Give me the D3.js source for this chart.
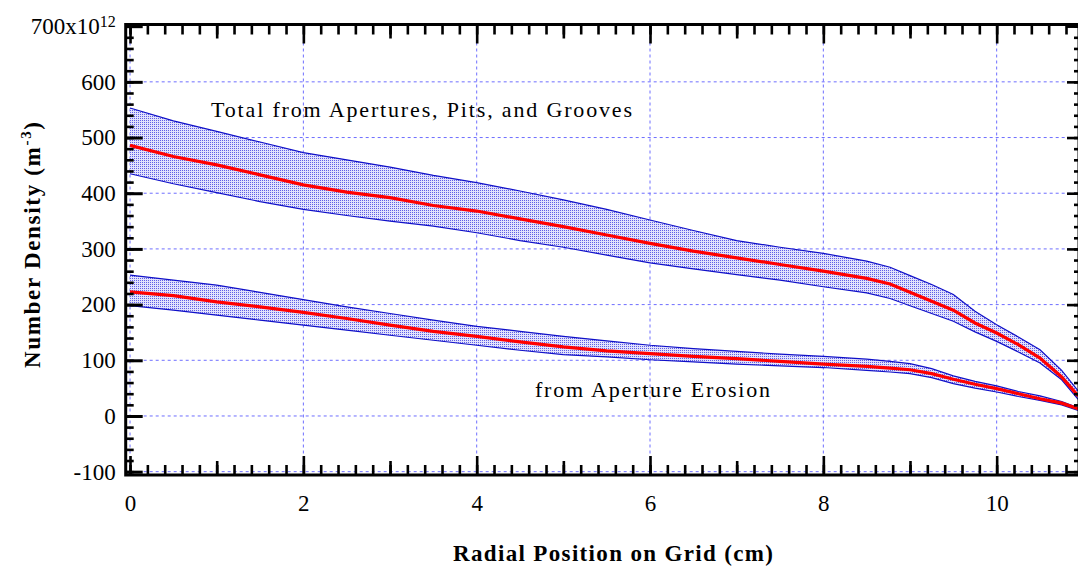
<!DOCTYPE html>
<html>
<head>
<meta charset="utf-8">
<script src="https://cdn.jsdelivr.net/npm/d3@7"></script>
<style>
    body { margin: 0; background: #fff; }
    svg { display: block; font-family: "Liberation Serif", "Times New Roman", serif; }
</style>
</head>
<body>
<svg width="1078" height="574"></svg>
<script>
// radial positions (cm) at which the curves were read
var radius = [0, 0.5, 1, 1.5, 2, 2.5, 3, 3.5, 4, 4.5, 5, 5.5, 6, 6.5, 7, 7.5, 8, 8.5, 8.77, 9, 9.25, 9.5, 9.75, 10, 10.25, 10.5, 10.75, 10.94];

// total from apertures, pits and grooves (x10^12 m^-3)
var totalHigh = [553, 530, 511, 492, 473, 460, 447, 432, 419, 404, 388, 371, 352, 333, 315, 303, 292, 278, 267, 252, 236, 218, 188, 164, 142, 119, 82, 45];
var totalMid  = [486, 466, 451, 433, 415, 402, 392, 378, 368, 354, 340, 325, 310, 296, 284, 272, 260, 247, 237, 222, 206, 190, 167, 149, 128, 104, 70, 36];
var totalLow  = [435, 417, 401, 385, 371, 360, 350, 341, 329, 315, 303, 289, 275, 264, 254, 244, 232, 221, 211, 198, 184, 170, 151, 134, 115, 95, 65, 30];

// from aperture erosion only
var erosionHigh = [253, 244, 235, 222, 209, 196, 184, 172, 161, 152, 143, 135, 127, 121, 116, 111, 107, 102, 98, 94, 85, 72, 62, 54, 44, 36, 26, 15];
var erosionMid  = [223, 216, 205, 196, 186, 175, 163, 152, 143, 133, 124, 117, 112, 107, 103, 98, 93, 89, 86, 83, 76, 66, 57, 49, 40, 31, 23, 13];
var erosionLow  = [198, 190, 181, 172, 163, 154, 145, 136, 127, 118, 110, 106, 101, 97, 93, 90, 87, 82, 79, 76, 69, 58, 50, 43, 35, 28, 20, 10];

var xTicks = [0, 2, 4, 6, 8, 10];
var yTicks = [-100, 0, 100, 200, 300, 400, 500, 600, 700];

var bandLabels = ["Total from Apertures, Pits, and Grooves", "from Aperture Erosion"];

var svg = d3.select("svg"),
    plotL = 125.7, plotR = 1079, plotT = 24.5, plotB = 475;

var x = d3.scaleLinear().domain([-0.05, 10.95]).range([plotL, plotR]);
var y = d3.scaleLinear().domain([-106, 703]).range([plotB, plotT]);

// stipple fill of the bands
var defs = svg.append("defs");
var pat = defs.append("pattern")
    .attr("id", "stipple")
    .attr("patternUnits", "userSpaceOnUse")
    .attr("width", 2)
    .attr("height", 2);
pat.append("rect").attr("width", 2).attr("height", 2).attr("fill", "#e2e2fc");
pat.append("rect").attr("width", 1).attr("height", 1).attr("fill", "#6060e6");

defs.append("clipPath").attr("id", "plotClip")
    .append("rect")
    .attr("x", plotL).attr("y", plotT)
    .attr("width", plotR - plotL).attr("height", plotB - plotT);

// grid
var grid = svg.append("g").attr("class", "grid")
    .attr("stroke", "#6e6eff")
    .attr("stroke-width", 1)
    .attr("stroke-dasharray", "3,3");

grid.selectAll(".vgrid")
    .data(xTicks)
    .enter().append("line")
    .attr("x1", function(d) { return x(d); })
    .attr("x2", function(d) { return x(d); })
    .attr("y1", plotT)
    .attr("y2", plotB);

grid.selectAll(".hgrid")
    .data(yTicks.filter(function(d) { return d < 700; }))
    .enter().append("line")
    .attr("x1", plotL)
    .attr("x2", plotR)
    .attr("y1", function(d) { return y(d); })
    .attr("y2", function(d) { return y(d); });

// bands
var bands = [
    {high: totalHigh, mid: totalMid, low: totalLow},
    {high: erosionHigh, mid: erosionMid, low: erosionLow}
];

var area = d3.area()
    .x(function(d) { return x(d.r); })
    .y0(function(d) { return y(d.lo); })
    .y1(function(d) { return y(d.hi); });

var line = d3.line()
    .x(function(d) { return x(d[0]); })
    .y(function(d) { return y(d[1]); });

var plot = svg.append("g").attr("clip-path", "url(#plotClip)");

bands.forEach(function(b) {
    var pts = radius.map(function(r, i) { return {r: r, hi: b.high[i], lo: b.low[i]}; });

    plot.append("path")
        .datum(pts)
        .attr("d", area)
        .attr("fill", "url(#stipple)");

    [b.high, b.low].forEach(function(edge) {
        plot.append("path")
            .datum(radius.map(function(r, i) { return [r, edge[i]]; }))
            .attr("d", line)
            .attr("fill", "none")
            .attr("stroke", "#1010c8")
            .attr("stroke-width", 1.2);
    });
});

bands.forEach(function(b) {
    plot.append("path")
        .datum(radius.map(function(r, i) { return [r, b.mid[i]]; }))
        .attr("d", line)
        .attr("fill", "none")
        .attr("stroke", "#ff0000")
        .attr("stroke-width", 3.2);
});

// ticks, all pointing inward
var xMinor = d3.range(0, 55).map(function(i) { return i * 0.2; }),
    xMedium = [1, 3, 5, 7, 9],
    yMinor = d3.range(-100, 701, 20);

function ticks(axisFn, scale, values, len, tx, ty, labelled) {
    var ax = axisFn(scale).tickValues(values).tickSize(-len);
    if (!labelled) ax.tickFormat("");
    var g = svg.append("g")
        .attr("transform", "translate(" + tx + "," + ty + ")")
        .call(ax);
    g.select(".domain").remove();
    g.selectAll("line").attr("stroke", "#000").attr("stroke-width", 2.6);
    return g;
}

ticks(d3.axisBottom, x, xMinor, 10, 0, plotB);
ticks(d3.axisBottom, x, xMedium, 14, 0, plotB);
var xAxis = ticks(d3.axisBottom, x, xTicks, 19, 0, plotB, true);
xAxis.selectAll(".tick text")
    .attr("font-family", "Liberation Serif")
    .attr("font-size", 23)
    .attr("fill", "#000")
    .attr("y", 20);

ticks(d3.axisTop, x, xMinor, 10, 0, plotT);
ticks(d3.axisTop, x, xMedium, 14, 0, plotT);
ticks(d3.axisTop, x, xTicks, 19, 0, plotT);

ticks(d3.axisLeft, y, yMinor, 8, plotL, 0);
var yAxis = ticks(d3.axisLeft, y, yTicks, 17, plotL, 0, true);
yAxis.selectAll("line").attr("stroke-width", 3);
yAxis.selectAll(".tick text")
    .attr("font-family", "Liberation Serif")
    .attr("font-size", 23)
    .attr("fill", "#000")
    .attr("x", -10)
    .text(function(d) { return d === 700 ? "700x10" : d; });
yAxis.selectAll(".tick text")
    .filter(function(d) { return d === 700; })
    .append("tspan")
    .attr("dy", "-0.45em")
    .attr("font-size", 16)
    .text("12");

ticks(d3.axisRight, y, yMinor, 5, plotR, 0);
ticks(d3.axisRight, y, yTicks, 12, plotR, 0);

// frame
svg.append("rect")
    .attr("x", plotL)
    .attr("y", plotT)
    .attr("width", plotR - plotL)
    .attr("height", plotB - plotT)
    .attr("fill", "none")
    .attr("stroke", "#000")
    .attr("stroke-width", 3);

// titles
svg.append("text")
    .attr("x", 613)
    .attr("y", 561)
    .attr("text-anchor", "middle")
    .attr("font-weight", "bold")
    .attr("font-size", 23)
    .attr("textLength", 320)
    .attr("lengthAdjust", "spacing")
    .text("Radial Position on Grid (cm)");

var yTitle = svg.append("text")
    .attr("transform", "translate(40,245) rotate(-90)")
    .attr("text-anchor", "middle")
    .attr("font-weight", "bold")
    .attr("font-size", 23)
    .attr("textLength", 246)
    .attr("lengthAdjust", "spacing");
yTitle.append("tspan").text("Number Density (m");
yTitle.append("tspan").attr("dy", -9).attr("font-size", 15).text("-3");
yTitle.append("tspan").attr("dy", 9).text(")");

// band annotations
svg.append("text")
    .attr("x", 211)
    .attr("y", 117)
    .attr("font-size", 22)
    .attr("textLength", 421)
    .attr("lengthAdjust", "spacing")
    .text(bandLabels[0]);

svg.append("text")
    .attr("x", 535)
    .attr("y", 397)
    .attr("font-size", 22)
    .attr("textLength", 235)
    .attr("lengthAdjust", "spacing")
    .text(bandLabels[1]);
</script>
</body>
</html>
